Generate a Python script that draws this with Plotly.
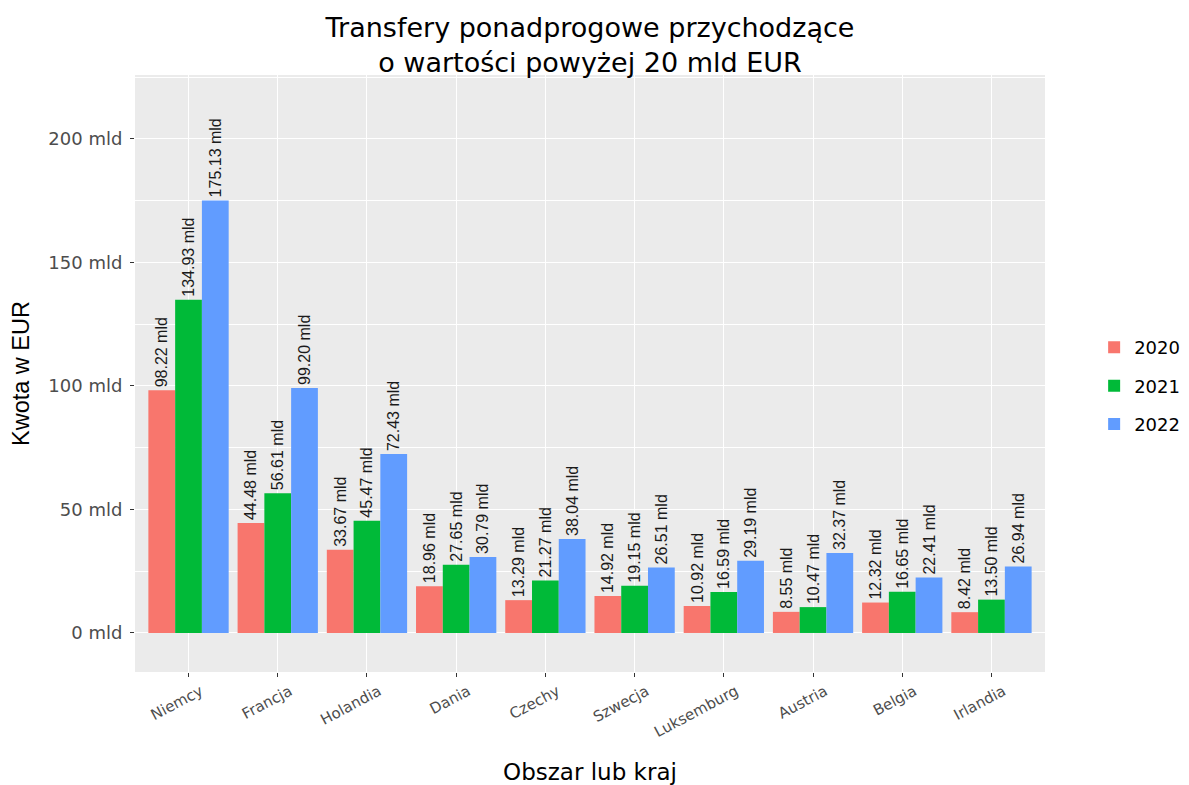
import plotly.graph_objects as go

# Data (billions EUR)
countries = ['Niemcy', 'Francja', 'Holandia', 'Dania', 'Czechy',
             'Szwecja', 'Luksemburg', 'Austria', 'Belgia', 'Irlandia']
values_2020 = [98.22, 44.48, 33.67, 18.96, 13.29, 14.92, 10.92, 8.55, 12.32, 8.42]
values_2021 = [134.93, 56.61, 45.47, 27.65, 21.27, 19.15, 16.59, 10.47, 16.65, 13.50]
values_2022 = [175.13, 99.20, 72.43, 30.79, 38.04, 26.51, 29.19, 32.37, 22.41, 26.94]
years = ['2020', '2021', '2022']
colors = ['#F8766D', '#00BA38', '#619CFF']

WIDE = 'DejaVu Sans, Verdana, sans-serif'
ARIAL = 'Liberation Sans, Arial, sans-serif'

# page body has an 8px margin, so the figure is a bit smaller than the window
W, H = 1181, 777

fig = go.Figure()

for year, vals, col in zip(years, [values_2020, values_2021, values_2022], colors):
    fig.add_trace(go.Bar(
        name=year,
        legendgroup=year,
        x=countries,
        y=vals,
        marker_color=col,
        marker_line_width=0,
        text=[f"{v:.2f} mld" for v in vals],
        textposition='outside',
        textangle=-90,
        constraintext='none',
        cliponaxis=False,
        textfont=dict(family=ARIAL, size=16, color='#1a1a1a'),
    ))

fig.update_layout(
    title=dict(
        text='Transfery ponadprogowe przychodzące<br>o wartości powyżej 20 mld EUR',
        x=0.5, xref='paper', xanchor='center',
        y=1 - 29 / H, yref='container', yanchor='middle',
        font=dict(family=WIDE, size=27, color='black'),
    ),
    barmode='group',
    bargap=0.1,
    bargroupgap=0,
    width=W,
    height=H,
    paper_bgcolor='white',
    plot_bgcolor='#EBEBEB',
    margin=dict(l=127, r=144, t=67, b=113, autoexpand=False),
    font=dict(family=WIDE),
    legend=dict(
        x=1.054, xanchor='left', y=0.479, yanchor='middle',
        font=dict(family=WIDE, size=18, color='black'),
        itemwidth=30,
        tracegroupgap=12,
    ),
)

fig.update_xaxes(
    title=dict(text='Obszar lub kraj', font=dict(family=WIDE, size=23, color='black'), standoff=24),
    range=[-0.6, 9.6],
    automargin=False,
    showgrid=True, gridcolor='white', gridwidth=1.4,
    ticks='outside', ticklen=4, tickcolor='#333333', tickwidth=1.2,
    tickangle=-28,
    ticklabelshift=12,
    tickfont=dict(family=WIDE, size=15, color='#4D4D4D'),
    zeroline=False, showline=False,
)

fig.update_yaxes(
    title=dict(text='Kwota w EUR', font=dict(family=ARIAL, size=23.5, color='black'), standoff=18),
    range=[-15.8, 225.9],
    automargin=False,
    tickvals=[0, 50, 100, 150, 200],
    ticktext=['0 mld', '50 mld', '100 mld', '150 mld', '200 mld'],
    showgrid=True, gridcolor='white', gridwidth=1.4,
    minor=dict(tick0=25, dtick=50, showgrid=True, gridcolor='white', gridwidth=0.7, ticks=''),
    ticks='outside', ticklen=4, tickcolor='#333333', tickwidth=1.2,
    ticklabelstandoff=4,
    tickfont=dict(family=WIDE, size=18, color='#4D4D4D'),
    zeroline=False, showline=False,
)

fig.write_html("out.html")
